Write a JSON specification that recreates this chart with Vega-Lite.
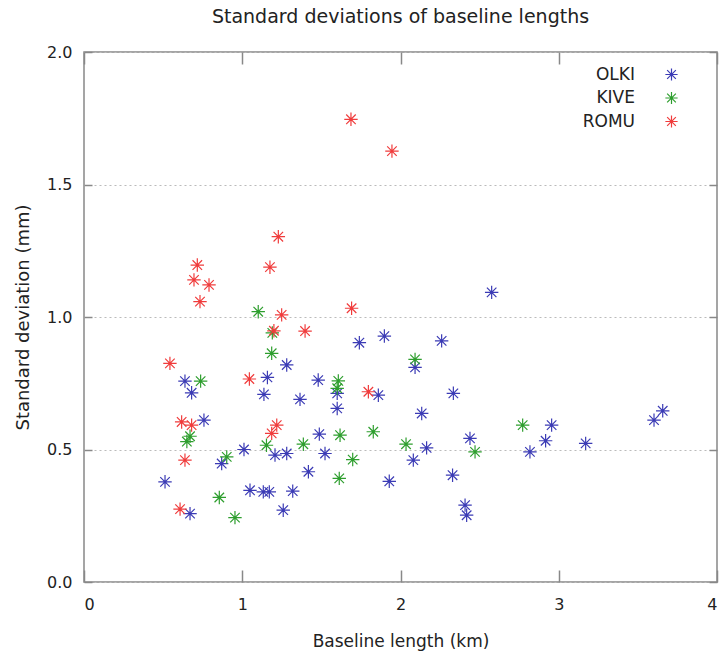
{
  "$schema": "https://vega.github.io/schema/vega-lite/v6.json",
  "autosize": "none",
  "width": 633,
  "height": 530,
  "padding": {"left": 84, "top": 52, "right": 9, "bottom": 75},
  "background": "white",
  "title": {"text": "Standard deviations of baseline lengths", "font": "DejaVu Sans", "fontSize": 19, "fontWeight": "normal", "color": "#222", "offset": 17},
  "config": {
    "view": {"stroke": "#888", "strokeWidth": 1.5},
    "font": "DejaVu Sans"
  },
  "data": {"values": [
    {"station": "OLKI", "length": 2.576, "sd": 1.093},
    {"station": "OLKI", "length": 1.740, "sd": 0.903},
    {"station": "OLKI", "length": 1.898, "sd": 0.928},
    {"station": "OLKI", "length": 2.260, "sd": 0.910},
    {"station": "OLKI", "length": 2.092, "sd": 0.810},
    {"station": "OLKI", "length": 1.281, "sd": 0.819},
    {"station": "OLKI", "length": 1.159, "sd": 0.772},
    {"station": "OLKI", "length": 0.638, "sd": 0.758},
    {"station": "OLKI", "length": 0.680, "sd": 0.714},
    {"station": "OLKI", "length": 1.137, "sd": 0.708},
    {"station": "OLKI", "length": 1.480, "sd": 0.762},
    {"station": "OLKI", "length": 1.600, "sd": 0.712},
    {"station": "OLKI", "length": 1.860, "sd": 0.705},
    {"station": "OLKI", "length": 1.365, "sd": 0.689},
    {"station": "OLKI", "length": 1.600, "sd": 0.655},
    {"station": "OLKI", "length": 2.334, "sd": 0.712},
    {"station": "OLKI", "length": 2.134, "sd": 0.636},
    {"station": "OLKI", "length": 0.758, "sd": 0.611},
    {"station": "OLKI", "length": 1.487, "sd": 0.558},
    {"station": "OLKI", "length": 2.165, "sd": 0.506},
    {"station": "OLKI", "length": 2.439, "sd": 0.542},
    {"station": "OLKI", "length": 2.081, "sd": 0.460},
    {"station": "OLKI", "length": 1.011, "sd": 0.500},
    {"station": "OLKI", "length": 1.207, "sd": 0.479},
    {"station": "OLKI", "length": 1.281, "sd": 0.485},
    {"station": "OLKI", "length": 1.523, "sd": 0.485},
    {"station": "OLKI", "length": 0.870, "sd": 0.447},
    {"station": "OLKI", "length": 1.418, "sd": 0.416},
    {"station": "OLKI", "length": 2.329, "sd": 0.403},
    {"station": "OLKI", "length": 0.512, "sd": 0.378},
    {"station": "OLKI", "length": 1.929, "sd": 0.380},
    {"station": "OLKI", "length": 1.049, "sd": 0.346},
    {"station": "OLKI", "length": 1.133, "sd": 0.340},
    {"station": "OLKI", "length": 1.171, "sd": 0.340},
    {"station": "OLKI", "length": 1.319, "sd": 0.343},
    {"station": "OLKI", "length": 1.259, "sd": 0.271},
    {"station": "OLKI", "length": 0.670, "sd": 0.258},
    {"station": "OLKI", "length": 2.408, "sd": 0.290},
    {"station": "OLKI", "length": 2.418, "sd": 0.252},
    {"station": "OLKI", "length": 2.955, "sd": 0.592},
    {"station": "OLKI", "length": 2.917, "sd": 0.533},
    {"station": "OLKI", "length": 2.818, "sd": 0.491},
    {"station": "OLKI", "length": 3.170, "sd": 0.523},
    {"station": "OLKI", "length": 3.602, "sd": 0.611},
    {"station": "OLKI", "length": 3.657, "sd": 0.646},
    {"station": "KIVE", "length": 1.101, "sd": 1.020},
    {"station": "KIVE", "length": 1.190, "sd": 0.940},
    {"station": "KIVE", "length": 1.186, "sd": 0.863},
    {"station": "KIVE", "length": 0.737, "sd": 0.758},
    {"station": "KIVE", "length": 2.092, "sd": 0.840},
    {"station": "KIVE", "length": 1.607, "sd": 0.759},
    {"station": "KIVE", "length": 1.600, "sd": 0.731},
    {"station": "KIVE", "length": 0.650, "sd": 0.530},
    {"station": "KIVE", "length": 0.670, "sd": 0.550},
    {"station": "KIVE", "length": 0.902, "sd": 0.472},
    {"station": "KIVE", "length": 1.153, "sd": 0.516},
    {"station": "KIVE", "length": 0.855, "sd": 0.319},
    {"station": "KIVE", "length": 0.954, "sd": 0.243},
    {"station": "KIVE", "length": 1.618, "sd": 0.554},
    {"station": "KIVE", "length": 1.828, "sd": 0.567},
    {"station": "KIVE", "length": 1.386, "sd": 0.520},
    {"station": "KIVE", "length": 1.698, "sd": 0.462},
    {"station": "KIVE", "length": 2.035, "sd": 0.520},
    {"station": "KIVE", "length": 1.613, "sd": 0.391},
    {"station": "KIVE", "length": 2.471, "sd": 0.491},
    {"station": "KIVE", "length": 2.772, "sd": 0.592},
    {"station": "ROMU", "length": 1.687, "sd": 1.746},
    {"station": "ROMU", "length": 1.946, "sd": 1.626},
    {"station": "ROMU", "length": 1.228, "sd": 1.303},
    {"station": "ROMU", "length": 1.175, "sd": 1.188},
    {"station": "ROMU", "length": 0.716, "sd": 1.196},
    {"station": "ROMU", "length": 0.695, "sd": 1.140},
    {"station": "ROMU", "length": 0.790, "sd": 1.121},
    {"station": "ROMU", "length": 0.733, "sd": 1.058},
    {"station": "ROMU", "length": 1.691, "sd": 1.033},
    {"station": "ROMU", "length": 1.249, "sd": 1.008},
    {"station": "ROMU", "length": 1.200, "sd": 0.948},
    {"station": "ROMU", "length": 1.397, "sd": 0.947},
    {"station": "ROMU", "length": 0.543, "sd": 0.825},
    {"station": "ROMU", "length": 1.045, "sd": 0.766},
    {"station": "ROMU", "length": 1.797, "sd": 0.718},
    {"station": "ROMU", "length": 0.617, "sd": 0.604},
    {"station": "ROMU", "length": 0.680, "sd": 0.592},
    {"station": "ROMU", "length": 1.218, "sd": 0.592},
    {"station": "ROMU", "length": 1.186, "sd": 0.561},
    {"station": "ROMU", "length": 0.638, "sd": 0.460},
    {"station": "ROMU", "length": 0.607, "sd": 0.275}
  ]},
  "layer": [
    {
      "mark": {"type": "point", "shape": "M-1,0H1M0,-1V1M-0.71,-0.71L0.71,0.71M-0.71,0.71L0.71,-0.71", "filled": false, "size": 180, "strokeWidth": 1.2, "opacity": 1},
      "encoding": {
        "x": {"field": "length", "type": "quantitative", "scale": {"domain": [0, 4], "nice": false, "zero": false},
          "axis": {"orient": "bottom", "title": "Baseline length (km)", "values": [0, 1, 2, 3, 4], "grid": false, "domain": false,
            "tickSize": -12, "tickColor": "#888", "tickWidth": 1.5, "labelPadding": 26, "labelFontSize": 16, "labelColor": "#222", "labelFont": "DejaVu Sans",
            "titleFontSize": 17, "titleFontWeight": "normal", "titleColor": "#222", "titlePadding": 21, "titleFont": "DejaVu Sans"}},
        "y": {"field": "sd", "type": "quantitative", "scale": {"domain": [0, 2], "nice": false, "zero": false},
          "axis": {"orient": "left", "title": "Standard deviation (mm)", "values": [0, 0.5, 1, 1.5, 2], "format": ".1f", "grid": true,
            "gridDash": [2, 3], "gridColor": "#bbb", "gridWidth": 1.2, "domain": false,
            "tickSize": -8, "tickColor": "#888", "tickWidth": 1.5, "labelPadding": 20, "labelFontSize": 16, "labelColor": "#222", "labelFont": "DejaVu Sans",
            "titleFontSize": 18, "titleFontWeight": "normal", "titleColor": "#222", "titlePadding": 14, "titleFont": "DejaVu Sans"}},
        "color": {"field": "station", "type": "nominal",
          "scale": {"domain": ["OLKI", "KIVE", "ROMU"], "range": ["#3b3bb5", "#2e9e2e", "#f03c3c"]},
          "legend": {"title": null, "orient": "none", "legendX": 579, "legendY": 14, "padding": 0,
            "symbolType": "M-1,0H1M0,-1V1M-0.71,-0.71L0.71,0.71M-0.71,0.71L0.71,-0.71", "symbolSize": 150, "symbolStrokeWidth": 1.2,
            "labelAlign": "right", "labelOffset": -45, "labelFontSize": 17, "labelColor": "#222", "labelFont": "DejaVu Sans", "rowPadding": 4.5}}
      }
    },
    {
      "mark": {"type": "point", "opacity": 0},
      "encoding": {
        "x": {"field": "length", "type": "quantitative",
          "axis": {"orient": "top", "title": null, "values": [0, 1, 2, 3, 4], "labels": false, "grid": false, "domain": false, "tickSize": -12, "tickColor": "#888", "tickWidth": 1.5}},
        "y": {"field": "sd", "type": "quantitative",
          "axis": {"orient": "right", "title": null, "values": [0, 0.5, 1, 1.5, 2], "labels": false, "grid": false, "domain": false, "tickSize": -8, "tickColor": "#888", "tickWidth": 1.5}}
      }
    }
  ]
}
